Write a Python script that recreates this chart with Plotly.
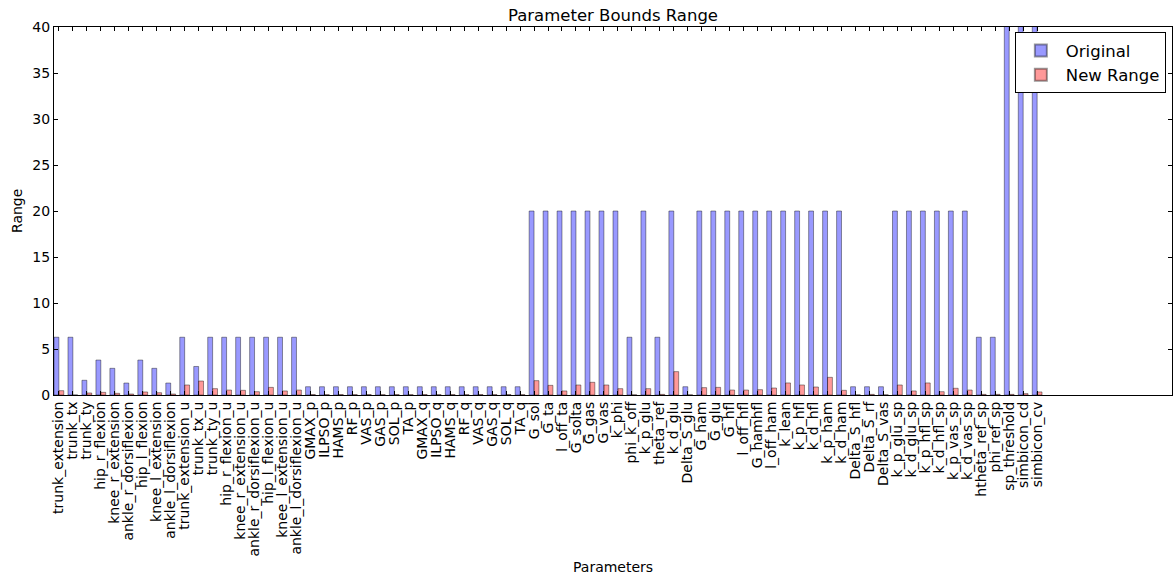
import plotly.graph_objects as go

# Parameter names along the x axis
params = [
    "trunk_extension", "trunk_tx", "trunk_ty", "hip_r_flexion", "knee_r_extension",
    "ankle_r_dorsiflexion", "hip_l_flexion", "knee_l_extension", "ankle_l_dorsiflexion",
    "trunk_extension_u", "trunk_tx_u", "trunk_ty_u", "hip_r_flexion_u", "knee_r_extension_u",
    "ankle_r_dorsiflexion_u", "hip_l_flexion_u", "knee_l_extension_u", "ankle_l_dorsiflexion_u",
    "GMAX_p", "ILPSO_p", "HAMS_p", "RF_p", "VAS_p", "GAS_p", "SOL_p", "TA_p",
    "GMAX_q", "ILPSO_q", "HAMS_q", "RF_q", "VAS_q", "GAS_q", "SOL_q", "TA_q",
    "G_sol", "G_ta", "l_off_ta", "G_solta", "G_gas", "G_vas", "k_phi", "phi_k_off",
    "k_p_glu", "theta_ref", "k_d_glu", "Delta_S_glu", "G_ham", "G_glu", "G_hfl",
    "l_off_hfl", "G_hamhfl", "l_off_ham", "k_lean", "k_p_hfl", "k_d_hfl", "k_p_ham",
    "k_d_ham", "Delta_S_hfl", "Delta_S_rf", "Delta_S_vas", "k_p_glu_sp", "k_d_glu_sp",
    "k_p_hfl_sp", "k_d_hfl_sp", "k_p_vas_sp", "k_d_vas_sp", "htheta_ref_sp", "phi_ref_sp",
    "sp_threshold", "simbicon_cd", "simbicon_cv",
]

# Width of the original bounds for each parameter
original_range = [
    6.28, 6.28, 1.6, 3.8, 2.9, 1.3, 3.8, 2.9, 1.3,
    6.28, 3.1, 6.28, 6.28, 6.28, 6.28, 6.28, 6.28, 6.28,
    0.9, 0.9, 0.9, 0.9, 0.9, 0.9, 0.9, 0.9,
    0.9, 0.9, 0.9, 0.9, 0.9, 0.9, 0.9, 0.9,
    20, 20, 20, 20, 20, 20, 20, 6.28,
    20, 6.28, 20, 0.9, 20, 20, 20,
    20, 20, 20, 20, 20, 20, 20,
    20, 0.9, 0.9, 0.9, 20, 20,
    20, 20, 20, 20, 6.28, 6.28,
    100, 100, 100,
]

# Width of the narrowed bounds for each parameter
new_range = [
    0.47, 0.0, 0.22, 0.29, 0.18, 0.11, 0.33, 0.25, 0.11,
    1.09, 1.52, 0.69, 0.54, 0.51, 0.36, 0.83, 0.44, 0.54,
    0.05, 0.04, 0.05, 0.04, 0.05, 0.04, 0.05, 0.04,
    0.05, 0.04, 0.05, 0.04, 0.05, 0.04, 0.05, 0.04,
    1.56, 1.05, 0.44, 1.09, 1.38, 1.09, 0.69, 0.02,
    0.69, 0.07, 2.54, 0.02, 0.8, 0.83, 0.54,
    0.54, 0.58, 0.76, 1.31, 1.09, 0.87, 1.92,
    0.51, 0.02, 0.07, 0.02, 1.09, 0.44,
    1.31, 0.36, 0.73, 0.54, 0.07, 0.07,
    0.07, 0.15, 0.33,
]

bar_w = 0.35
idx = list(range(len(params)))
font = "DejaVu Sans, sans-serif"

fig = go.Figure()
fig.add_trace(go.Bar(
    x=idx, y=original_range, width=bar_w, offset=0, name="Original",
    marker=dict(color="rgba(0,0,255,0.4)", line=dict(color="rgba(0,0,0,0.4)", width=1)),
))
fig.add_trace(go.Bar(
    x=[i + bar_w for i in idx], y=new_range, width=bar_w, offset=0, name="New Range",
    marker=dict(color="rgba(255,0,0,0.4)", line=dict(color="rgba(0,0,0,0.4)", width=1)),
))

fig.update_layout(
    width=1173, height=578,
    margin=dict(l=54, r=1, t=27, b=183),
    paper_bgcolor="white", plot_bgcolor="white",
    barmode="overlay",
    font=dict(family=font, size=14, color="black"),
    title=dict(text="Parameter Bounds Range", x=0.5, xref="paper", y=0.973, yanchor="middle",
               font=dict(size=16.5, family=font, color="black")),
    xaxis=dict(
        range=[0, 80], tickmode="array",
        tickvals=[i + bar_w for i in idx], ticktext=params, tickangle=-90,
        ticks="inside", ticklen=4, tickcolor="black", tickwidth=1,
        showline=True, linecolor="black", linewidth=1, mirror="ticks",
        showgrid=False, zeroline=False, tickfont=dict(size=14),
    ),
    yaxis=dict(
        range=[0, 40], tickvals=[0, 5, 10, 15, 20, 25, 30, 35, 40],
        ticks="inside", ticklen=4, tickcolor="black", tickwidth=1,
        showline=True, linecolor="black", linewidth=1, mirror="ticks",
        showgrid=False, zeroline=False, tickfont=dict(size=14),
    ),
    legend=dict(
        x=0.9945, xanchor="right", y=0.986, yanchor="top",
        bgcolor="white", bordercolor="black", borderwidth=1,
        font=dict(size=16.5, family=font), itemsizing="constant",
        itemwidth=40,
    ),
    annotations=[
        dict(text="Parameters", xref="paper", yref="paper", x=0.5, y=-0.0, yshift=-172,
             showarrow=False, font=dict(size=14, family=font), yanchor="middle"),
        dict(text="Range", xref="paper", yref="paper", x=0, xshift=-37, y=0.5,
             textangle=-90, showarrow=False, font=dict(size=14, family=font), xanchor="center"),
    ],
)

fig.write_html("out.html")
